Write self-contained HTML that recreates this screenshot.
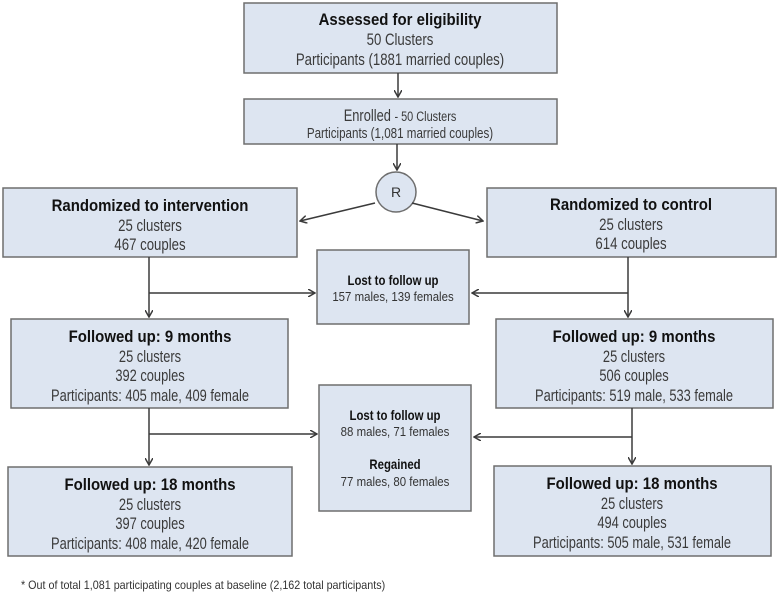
<!DOCTYPE html>
<html><head><meta charset="utf-8"><style>
html,body{margin:0;padding:0;background:#fff;}
svg{display:block;}
text{font-family:"Liberation Sans",sans-serif;fill:#2a2a2a;}
.t{font-weight:bold;font-size:17px;fill:#111;}
.b{font-size:16.5px;fill:#3a3a3a;}
.s{font-size:13px;fill:#333;}
.sb{font-size:13.4px;font-weight:bold;fill:#111;}
rect{fill:#dde5f1;stroke:#6e6e6e;stroke-width:1.5;}
line{stroke:#3a3a3a;stroke-width:1.5;}
</style></head><body>
<svg width="778" height="593" viewBox="0 0 778 593" xmlns="http://www.w3.org/2000/svg">
<defs><marker id="a" markerWidth="8" markerHeight="8" refX="7" refY="4" orient="auto" markerUnits="userSpaceOnUse"><path d="M0,0 L7,4 L0,8" fill="none" stroke="#3a3a3a" stroke-width="1.5"/></marker></defs>

<rect x="244" y="3" width="313" height="70"/>
<g text-anchor="middle">
<text class="t" transform="translate(400,25) scale(0.88,1)">Assessed for eligibility</text>
<text class="b" transform="translate(400,45) scale(0.8,1)">50 Clusters</text>
<text class="b" transform="translate(400,65) scale(0.8,1)">Participants (1881 married couples)</text>
</g>
<line x1="398" y1="73" x2="398" y2="97" marker-end="url(#a)"/>

<rect x="244" y="99" width="313" height="45"/>
<g text-anchor="middle">
<text class="b" transform="translate(400,121) scale(0.78,1)">Enrolled <tspan style="font-size:14px">- 50 Clusters</tspan></text>
<text class="b" style="font-size:14.5px" transform="translate(400,138) scale(0.8,1)">Participants (1,081  married couples)</text>
</g>
<line x1="397" y1="144" x2="397" y2="170" marker-end="url(#a)"/>

<circle cx="396" cy="192" r="20" fill="#dde5f1" stroke="#6e6e6e" stroke-width="1.5"/>
<text class="s" text-anchor="middle" x="396" y="197" style="font-size:14px">R</text>
<line x1="375" y1="203" x2="300" y2="221" marker-end="url(#a)"/>
<line x1="412" y1="203" x2="483" y2="221" marker-end="url(#a)"/>

<rect x="3" y="188" width="294" height="69"/>
<rect x="487" y="188" width="289" height="69"/>
<g text-anchor="middle">
<text class="t" transform="translate(150,211) scale(0.88,1)">Randomized to intervention</text>
<text class="b" transform="translate(150,231) scale(0.8,1)">25 clusters</text>
<text class="b" transform="translate(150,250) scale(0.8,1)">467 couples</text>
<text class="t" transform="translate(631,210) scale(0.88,1)">Randomized to control</text>
<text class="b" transform="translate(631,230) scale(0.8,1)">25 clusters</text>
<text class="b" transform="translate(631,249) scale(0.8,1)">614 couples</text>
</g>

<rect x="317" y="250" width="152" height="74"/>
<g text-anchor="middle">
<text class="sb" transform="translate(393,285) scale(0.85,1)">Lost to follow up</text>
<text class="s" transform="translate(393,301) scale(0.88,1)">157 males, 139 females</text>
</g>
<line x1="149" y1="257" x2="149" y2="317" marker-end="url(#a)"/>
<line x1="149" y1="293" x2="315" y2="293" marker-end="url(#a)"/>
<line x1="628" y1="257" x2="628" y2="317" marker-end="url(#a)"/>
<line x1="628" y1="293" x2="472" y2="293" marker-end="url(#a)"/>

<rect x="11" y="319" width="277" height="89"/>
<rect x="496" y="319" width="277" height="89"/>
<g text-anchor="middle">
<text class="t" transform="translate(150,342) scale(0.88,1)">Followed up: 9 months</text>
<text class="b" transform="translate(150,362) scale(0.78,1)">25 clusters</text>
<text class="b" transform="translate(150,381) scale(0.78,1)">392 couples</text>
<text class="b" transform="translate(150,401) scale(0.78,1)">Participants:  405 male, 409 female</text>
<text class="t" transform="translate(634,342) scale(0.88,1)">Followed up: 9 months</text>
<text class="b" transform="translate(634,362) scale(0.78,1)">25 clusters</text>
<text class="b" transform="translate(634,381) scale(0.78,1)">506 couples</text>
<text class="b" transform="translate(634,401) scale(0.78,1)">Participants:  519 male, 533 female</text>
</g>

<rect x="319" y="385" width="152" height="126"/>
<g text-anchor="middle">
<text class="sb" transform="translate(395,420) scale(0.85,1)">Lost to follow up</text>
<text class="s" transform="translate(395,436) scale(0.88,1)">88 males, 71 females</text>
<text class="sb" transform="translate(395,469) scale(0.85,1)">Regained</text>
<text class="s" transform="translate(395,486) scale(0.88,1)">77 males, 80 females</text>
</g>
<line x1="149" y1="408" x2="149" y2="465" marker-end="url(#a)"/>
<line x1="149" y1="434" x2="317" y2="434" marker-end="url(#a)"/>
<line x1="632" y1="408" x2="632" y2="464" marker-end="url(#a)"/>
<line x1="632" y1="437" x2="474" y2="437" marker-end="url(#a)"/>

<rect x="8" y="467" width="284" height="89"/>
<rect x="494" y="466" width="277" height="90"/>
<g text-anchor="middle">
<text class="t" transform="translate(150,490) scale(0.88,1)">Followed up: 18 months</text>
<text class="b" transform="translate(150,510) scale(0.78,1)">25 clusters</text>
<text class="b" transform="translate(150,529) scale(0.78,1)">397 couples</text>
<text class="b" transform="translate(150,549) scale(0.78,1)">Participants:  408 male, 420 female</text>
<text class="t" transform="translate(632,489) scale(0.88,1)">Followed up: 18 months</text>
<text class="b" transform="translate(632,509) scale(0.78,1)">25 clusters</text>
<text class="b" transform="translate(632,528) scale(0.78,1)">494 couples</text>
<text class="b" transform="translate(632,548) scale(0.78,1)">Participants:  505 male, 531 female</text>
</g>

<text class="s" style="font-size:11.7px" transform="translate(21,589) scale(0.92,1)">* Out of total 1,081 participating couples at baseline (2,162 total participants)</text>
</svg>
</body></html>
